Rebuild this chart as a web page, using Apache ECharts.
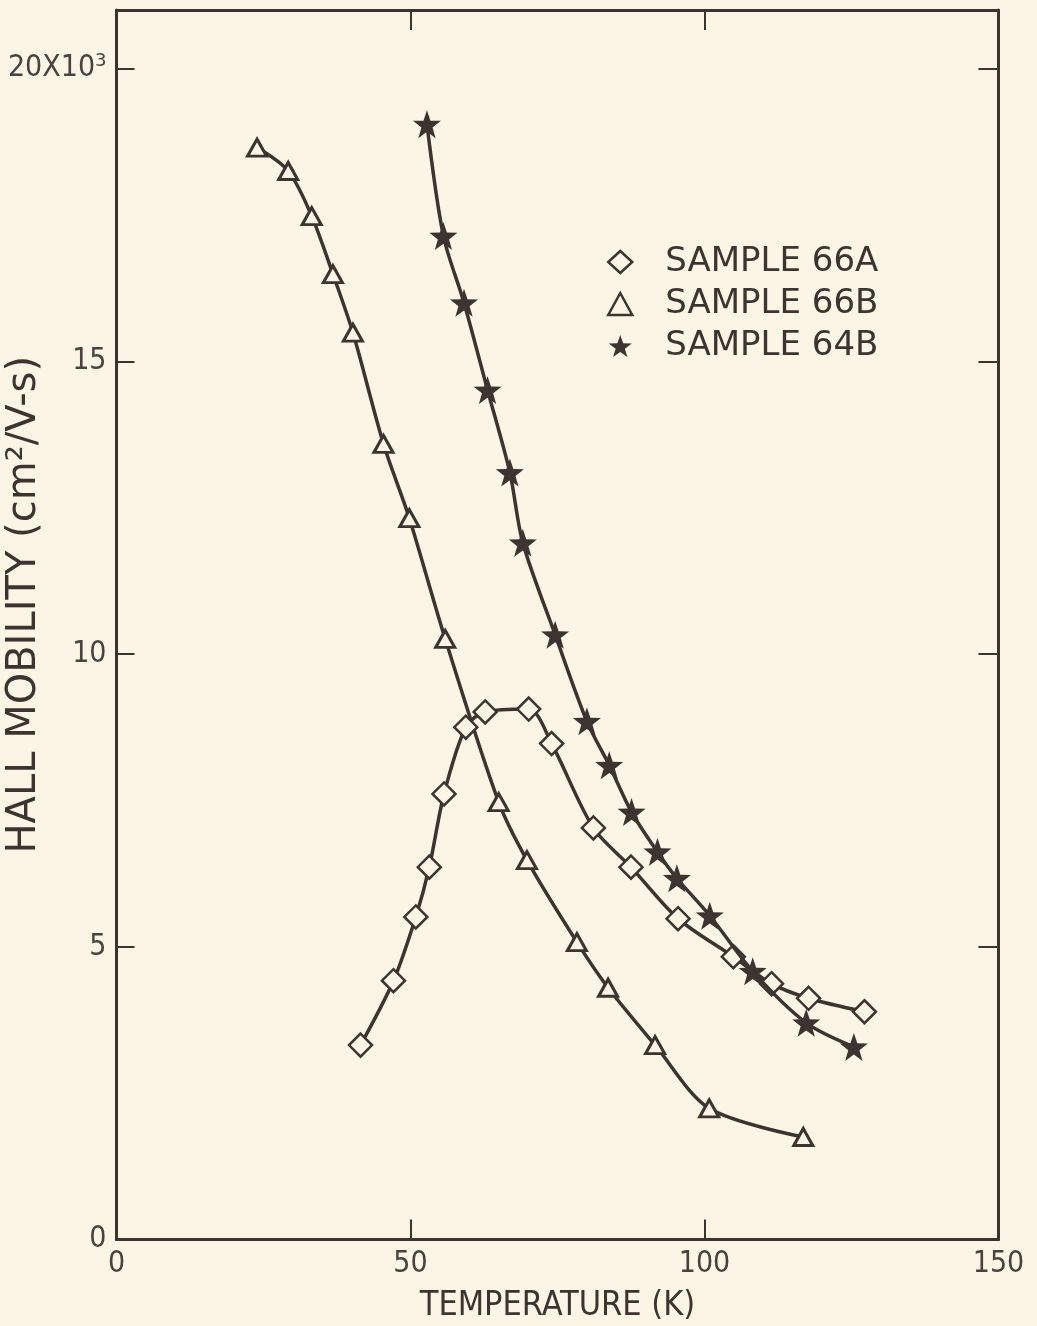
<!DOCTYPE html>
<html>
<head>
<meta charset="utf-8">
<script src="https://cdn.jsdelivr.net/npm/echarts@6/dist/echarts.min.js"></script>
<style>
html,body{margin:0;padding:0;background:#fbf5e5;}
#chart{width:1037px;height:1326px;}
</style>
</head>
<body>
<div id="chart"></div>
<script>
// data: temperature (K), hall mobility (x10^3 cm2/V-s)
var seriesNames = ['SAMPLE 66A', 'SAMPLE 66B', 'SAMPLE 64B'];
var tempA = [41.5, 47.1, 50.9, 53.2, 55.7, 59.4, 62.7, 70.1, 74.0, 81.1, 87.5, 95.5, 104.9, 111.4, 117.7, 127.2];
var mobA  = [3.32, 4.42, 5.51, 6.36, 7.61, 8.75, 9.01, 9.06, 8.47, 7.03, 6.36, 5.48, 4.83, 4.37, 4.12, 3.89];
var tempB = [23.9, 29.2, 33.2, 36.8, 40.2, 45.4, 49.8, 55.9, 65.0, 69.8, 78.3, 83.6, 91.6, 100.8, 116.8];
var mobB  = [18.65, 18.25, 17.48, 16.49, 15.49, 13.59, 12.32, 10.26, 7.47, 6.48, 5.08, 4.30, 3.32, 2.24, 1.75];
var tempC = [52.8, 55.6, 59.1, 63.1, 66.9, 69.1, 74.6, 80.0, 83.8, 87.6, 92.0, 95.3, 100.9, 108.2, 117.3, 125.4];
var mobC  = [19.05, 17.14, 16.00, 14.51, 13.10, 11.90, 10.33, 8.85, 8.10, 7.30, 6.62, 6.17, 5.53, 4.58, 3.70, 3.29];
var xTicks = [0, 50, 100, 150];
var yTicks = [0, 5, 10, 15, 20];

var ink = '#3d3431';
var paper = '#fbf5e5';
var starPath = 'path://M50 0 L61.8 33.8 L97.6 34.5 L69 56.2 L79.4 90.5 L50 70 L20.6 90.5 L31 56.2 L2.4 34.5 L38.2 33.8 Z';
var font = 'DejaVu Sans';
var numFont = 'DejaVu Sans Condensed, DejaVu Sans';

function pairs(xs, ys) {
    var out = [];
    for (var i = 0; i < xs.length; i++) out.push([xs[i], ys[i]]);
    return out;
}

var myChart = echarts.init(document.getElementById('chart'));
var option = {
    backgroundColor: paper,
    animation: false,
    grid: {left: 116.5, right: 38.5, top: 10, bottom: 86.5, containLabel: false, outerBoundsMode: 'none'},
    legend: {
        orient: 'vertical',
        left: 602,
        top: 240,
        itemWidth: 24,
        itemHeight: 22,
        itemGap: 8,
        textStyle: {fontFamily: font, fontSize: 34, color: ink, padding: [0, 0, 0, 28]},
        data: [
            {name: seriesNames[0], icon: 'diamond', itemStyle: {color: paper, borderColor: ink, borderWidth: 2.5}},
            {name: seriesNames[1], icon: 'triangle', itemStyle: {color: paper, borderColor: ink, borderWidth: 2.5}},
            {name: seriesNames[2], icon: starPath, itemStyle: {color: ink}}
        ]
    },
    xAxis: [
        {
            type: 'value', position: 'bottom', min: xTicks[0], max: xTicks[xTicks.length - 1], interval: 50,
            splitLine: {show: false},
            axisLine: {onZero: false, lineStyle: {color: ink, width: 3}},
            axisTick: {inside: true, length: 20, lineStyle: {color: ink, width: 2}},
            axisLabel: {margin: 10, fontFamily: numFont, fontSize: 30, color: '#4a4240'},
            name: 'TEMPERATURE (K)', nameLocation: 'middle', nameGap: 50, nameMoveOverlap: false,
            nameTextStyle: {fontFamily: numFont, fontSize: 34, color: ink}
        },
        {
            type: 'value', position: 'top', min: xTicks[0], max: xTicks[xTicks.length - 1], interval: 50,
            splitLine: {show: false},
            axisLine: {onZero: false, lineStyle: {color: ink, width: 3}},
            axisTick: {inside: true, length: 20, lineStyle: {color: ink, width: 2}},
            axisLabel: {show: false}
        }
    ],
    yAxis: [
        {
            type: 'value', position: 'left', min: 0, max: 21, interval: 5,
            splitLine: {show: false},
            axisLine: {onZero: false, lineStyle: {color: ink, width: 3}},
            axisTick: {inside: true, length: 18, lineStyle: {color: ink, width: 2}},
            axisLabel: {
                margin: 10, fontFamily: numFont, fontSize: 30, color: '#4a4240',
                formatter: function (v) {
                    if (yTicks.indexOf(v) < 0) return '';
                    if (v === 20) return '20X10{s|3}';
                    return String(v);
                },
                rich: {s: {fontSize: 18, verticalAlign: 'top', padding: [0, 0, 14, 0], fontFamily: font, color: '#4a4240'}}
            },
            name: 'HALL MOBILITY (cm²/V-s)', nameLocation: 'middle', nameGap: 72, nameRotate: 90,
            nameMoveOverlap: false,
            nameTextStyle: {fontFamily: font, fontSize: 40, color: ink, padding: [0, 0, 0, 40]}
        },
        {
            type: 'value', position: 'right', min: 0, max: 21, interval: 5,
            splitLine: {show: false},
            axisLine: {onZero: false, lineStyle: {color: ink, width: 3}},
            axisTick: {inside: true, length: 20, lineStyle: {color: ink, width: 2}},
            axisLabel: {show: false}
        }
    ],
    series: [
        {
            name: seriesNames[0], type: 'line', smooth: 0.3,
            data: pairs(tempA, mobA),
            symbol: 'diamond', symbolSize: 23,
            lineStyle: {color: ink, width: 3.5},
            itemStyle: {color: paper, borderColor: ink, borderWidth: 2.5},
            z: 3
        },
        {
            name: seriesNames[1], type: 'line', smooth: 0.3,
            data: pairs(tempB, mobB),
            symbol: 'triangle', symbolSize: [19, 17],
            lineStyle: {color: ink, width: 3.5},
            itemStyle: {color: paper, borderColor: ink, borderWidth: 3},
            z: 3
        },
        {
            name: seriesNames[2], type: 'line', smooth: 0.3,
            data: pairs(tempC, mobC),
            symbol: starPath, symbolSize: 28,
            lineStyle: {color: ink, width: 3.5},
            itemStyle: {color: ink},
            z: 4
        }
    ]
};
myChart.setOption(option);
</script>
</body>
</html>
